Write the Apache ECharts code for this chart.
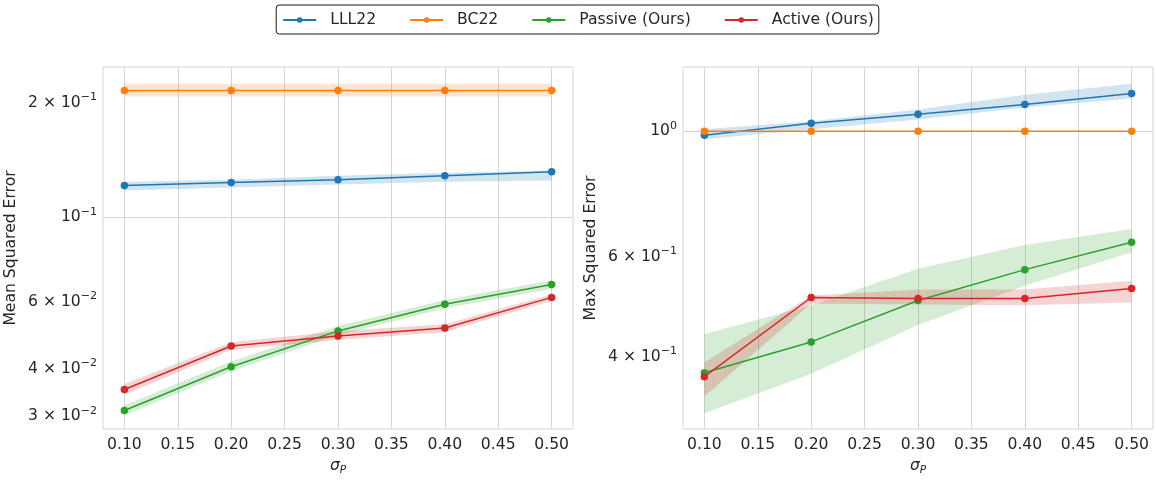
<!DOCTYPE html>
<html><head><meta charset="utf-8">
<script src="https://cdn.jsdelivr.net/npm/echarts@6/dist/echarts.min.js"></script>
<style>html,body{margin:0;padding:0;background:#fff}#c{width:1156px;height:481px}</style>
</head><body><div id="c"></div>
<script>
const sigmaP = [0.1, 0.2, 0.3, 0.4, 0.5];
const seriesNames = ['LLL22', 'BC22', 'Passive (Ours)', 'Active (Ours)'];
const colors = ['#1f77b4', '#ff7f0e', '#2ca02c', '#d62728'];
const bandColors = ['rgba(31,119,180,0.2)', 'rgba(255,127,14,0.2)', 'rgba(44,160,44,0.2)', 'rgba(214,39,40,0.2)'];

// Left panel: Mean Squared Error
const mseLLL   = [0.1211, 0.1233, 0.1255, 0.1286, 0.1317];
const mseLLLlo = [0.1175, 0.1197, 0.1218, 0.1240, 0.1248];
const mseLLLhi = [0.1240, 0.1255, 0.1286, 0.1309, 0.1325];
const mseBC    = [0.215, 0.215, 0.215, 0.215, 0.215];
const mseBClo  = [0.2074, 0.2074, 0.2074, 0.2074, 0.2074];
const mseBChi  = [0.2242, 0.2242, 0.2242, 0.2242, 0.2242];
const msePas   = [0.0311, 0.0405, 0.0503, 0.0591, 0.0666];
const msePaslo = [0.0302, 0.0394, 0.0490, 0.0577, 0.0648];
const msePashi = [0.0321, 0.0418, 0.0518, 0.0606, 0.0683];
const mseAct   = [0.0353, 0.0459, 0.0488, 0.0512, 0.0616];
const mseActlo = [0.0342, 0.0449, 0.0476, 0.0500, 0.0604];
const mseActhi = [0.0365, 0.0470, 0.0502, 0.0524, 0.0628];

// Right panel: Max Squared Error
const maxLLL   = [0.984, 1.033, 1.071, 1.115, 1.165];
const maxLLLlo = [0.968, 1.008, 1.049, 1.101, 1.142];
const maxLLLhi = [1.008, 1.041, 1.092, 1.160, 1.213];
const maxBC    = [1.0, 1.0, 1.0, 1.0, 1.0];
const maxBClo  = [1.0, 1.0, 1.0, 1.0, 1.0];
const maxBChi  = [1.0, 1.0, 1.0, 1.0, 1.0];
const maxPas   = [0.375, 0.425, 0.503, 0.570, 0.637];
const maxPaslo = [0.318, 0.3736, 0.455, 0.534, 0.612];
const maxPashi = [0.4387, 0.493, 0.572, 0.630, 0.672];
const maxAct   = [0.369, 0.509, 0.507, 0.507, 0.528];
const maxActlo = [0.3405, 0.497, 0.495, 0.493, 0.499];
const maxActhi = [0.391, 0.513, 0.526, 0.526, 0.545];

// Tick labels
const xTickValues = [0.10, 0.15, 0.20, 0.25, 0.30, 0.35, 0.40, 0.45, 0.50];
const leftTickValues = [0.03, 0.04, 0.06, 0.1, 0.2];
const leftTickLabels = [['3 × 10', '−2'], ['4 × 10', '−2'], ['6 × 10', '−2'], ['10', '−1'], ['2 × 10', '−1']];
const rightTickValues = [0.4, 0.6, 1.0];
const rightTickLabels = [['4 × 10', '−1'], ['6 × 10', '−1'], ['10', '0']];
const leftGridValues = [0.1];
const rightGridValues = [1.0];

const TXT = '#262626';
const FONT = 'DejaVu Sans';
const GRIDC = '#d5d5d5';
const FS = 15.6;

function yFormatter(vals, labs) {
  return function (v) {
    for (let i = 0; i < vals.length; i++) {
      if (Math.abs(v - vals[i]) / vals[i] < 1e-6) return '{b|' + labs[i][0] + '}{s|' + labs[i][1] + '}';
    }
    return '';
  };
}
const yRich = {
  b: { fontSize: FS, color: TXT, fontFamily: FONT, lineHeight: 22 },
  s: { fontSize: 11, color: TXT, fontFamily: FONT, lineHeight: 12, verticalAlign: 'top' }
};

function xAxisDef(gi) {
  return {
    type: 'value', gridIndex: gi, min: 0.08, max: 0.52,
    name: '{i|σ}{s|P}', nameLocation: 'middle', nameGap: 27,
    nameTextStyle: { rich: {
      i: { fontSize: FS, fontStyle: 'italic', color: TXT, fontFamily: FONT, lineHeight: 20 },
      s: { fontSize: 10.5, fontStyle: 'italic', color: TXT, fontFamily: FONT, lineHeight: 12, verticalAlign: 'bottom' }
    } },
    axisLine: { show: false },
    axisTick: { show: false, customValues: xTickValues },
    axisLabel: { customValues: xTickValues, formatter: v => v.toFixed(2), fontSize: FS, color: TXT, fontFamily: FONT, margin: 8 },
    splitLine: { show: true, lineStyle: { color: GRIDC, width: 1 } }
  };
}
function yAxisMain(gi, min, max, vals, labs, name) {
  return {
    type: 'log', gridIndex: gi, min: min, max: max,
    name: name, nameLocation: 'middle', nameGap: 84, nameRotate: 90,
    nameTextStyle: { fontSize: FS, color: TXT, fontFamily: FONT },
    axisLine: { show: false },
    axisTick: { show: false, customValues: vals },
    axisLabel: { customValues: vals, formatter: yFormatter(vals, labs), rich: yRich, margin: 6 },
    splitLine: { show: false }
  };
}
function yAxisGrid(gi, min, max, gvals) {
  return {
    type: 'log', gridIndex: gi, min: min, max: max, position: 'left',
    axisLine: { show: false },
    axisTick: { show: false, customValues: gvals },
    axisLabel: { show: false, customValues: gvals },
    splitLine: { show: true, lineStyle: { color: GRIDC, width: 1 } }
  };
}

function band(xi, yi, lo, hi, color) {
  return {
    type: 'custom', xAxisIndex: xi, yAxisIndex: yi, silent: true, z: 1,
    data: sigmaP.map((x, i) => [x, lo[i], hi[i]]),
    encode: { x: 0, y: [1, 2] },
    renderItem: function (params, api) {
      if (params.dataIndex !== 0) return null;
      const pts = [];
      for (let i = 0; i < sigmaP.length; i++) pts.push(api.coord([sigmaP[i], hi[i]]));
      for (let i = sigmaP.length - 1; i >= 0; i--) pts.push(api.coord([sigmaP[i], lo[i]]));
      return { type: 'polygon', shape: { points: pts }, style: { fill: color, stroke: null } };
    }
  };
}
function line(xi, yi, name, vals, color) {
  return {
    type: 'line', name: name, xAxisIndex: xi, yAxisIndex: yi, z: 3,
    data: sigmaP.map((x, i) => [x, vals[i]]),
    symbol: 'circle', symbolSize: 7.5, showSymbol: true,
    itemStyle: { color: color },
    lineStyle: { color: color, width: 1.5 },
    emphasis: { disabled: true }, animation: false
  };
}

const leftSets = [[mseLLL, mseLLLlo, mseLLLhi], [mseBC, mseBClo, mseBChi], [msePas, msePaslo, msePashi], [mseAct, mseActlo, mseActhi]];
const rightSets = [[maxLLL, maxLLLlo, maxLLLhi], [maxBC, maxBClo, maxBChi], [maxPas, maxPaslo, maxPashi], [maxAct, maxActlo, maxActhi]];

const series = [];
[[0, 0, leftSets], [1, 2, rightSets]].forEach(([xi, yi, sets]) => {
  sets.forEach((s, k) => {
    series.push(band(xi, yi, s[1], s[2], bandColors[k]));
    series.push(line(xi, yi, seriesNames[k], s[0], colors[k]));
  });
});

const chart = echarts.init(document.getElementById('c'), null, { renderer: 'canvas' });
chart.setOption({
  animation: false,
  backgroundColor: '#ffffff',
  textStyle: { fontFamily: FONT, color: TXT },
  legend: {
    data: seriesNames, top: 5, left: 'center',
    borderColor: '#1a1a1a', borderWidth: 1, borderRadius: 3,
    padding: [7, 5, 6, 6], itemGap: 33, itemWidth: 33, itemHeight: 7,
    textStyle: { fontSize: FS, color: TXT, fontFamily: FONT, padding: [0, 0, 0, 9] }
  },
  grid: [
    { left: 103, top: 67, width: 470, height: 366, show: true, borderColor: GRIDC, borderWidth: 1, containLabel: false },
    { left: 683, top: 67, width: 470, height: 366, show: true, borderColor: GRIDC, borderWidth: 1, containLabel: false }
  ],
  xAxis: [xAxisDef(0), xAxisDef(1)],
  yAxis: [
    yAxisMain(0, 0.0278, 0.248, leftTickValues, leftTickLabels, 'Mean Squared Error'),
    yAxisGrid(0, 0.0278, 0.248, leftGridValues),
    yAxisMain(1, 0.2984, 1.298, rightTickValues, rightTickLabels, 'Max Squared Error'),
    yAxisGrid(1, 0.2984, 1.298, rightGridValues)
  ],
  series: series
});
</script></body></html>
